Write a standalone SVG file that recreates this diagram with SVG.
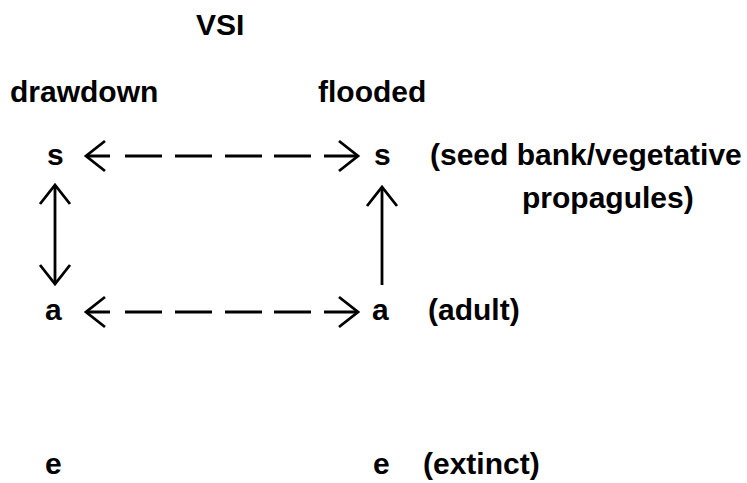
<svg xmlns="http://www.w3.org/2000/svg" width="747" height="483" viewBox="0 0 747 483">
<style>
text{font-family:"Liberation Sans",Arial,sans-serif;font-weight:bold;font-size:30px;fill:#000}
.c{stroke:#000;stroke-width:2.8;fill:none}
.d{stroke-dasharray:24 15 37 13 37 13 37 12 37 13 35}
</style>
<defs>
<marker id="ah" markerUnits="userSpaceOnUse" markerWidth="26" markerHeight="36" refX="21" refY="17" orient="auto-start-reverse">
<path d="M2,2 L21,17 L2,32" fill="none" stroke="#000" stroke-width="2.8"/>
</marker>
</defs>
<rect width="747" height="483" fill="#fff"/>
<g id="title"><text x="196" y="35">VSI</text></g>
<g id="col-drawdown"><text x="10" y="102">drawdown</text></g>
<g id="col-flooded"><text x="318" y="102">flooded</text></g>
<g id="s-drawdown"><text x="47" y="165">s</text></g>
<g id="s-flooded"><text x="374" y="165">s</text></g>
<g id="s-label"><text x="430" y="165">(seed bank/vegetative</text><text x="522" y="208">propagules)</text></g>
<g id="a-drawdown"><text x="45" y="320">a</text></g>
<g id="a-flooded"><text x="372" y="320">a</text></g>
<g id="a-label"><text x="428" y="320">(adult)</text></g>
<g id="e-drawdown"><text x="45" y="474">e</text></g>
<g id="e-flooded"><text x="373" y="474">e</text></g>
<g id="e-label"><text x="423" y="474">(extinct)</text></g>
<g id="connectors">
<path class="c d" d="M86,156 H358" marker-start="url(#ah)" marker-end="url(#ah)"/>
<path class="c d" d="M86,312 H358" marker-start="url(#ah)" marker-end="url(#ah)"/>
<path class="c" d="M55,185 V284" marker-start="url(#ah)" marker-end="url(#ah)"/>
<path class="c" d="M382,285 V187" marker-end="url(#ah)"/>
</g>
</svg>
